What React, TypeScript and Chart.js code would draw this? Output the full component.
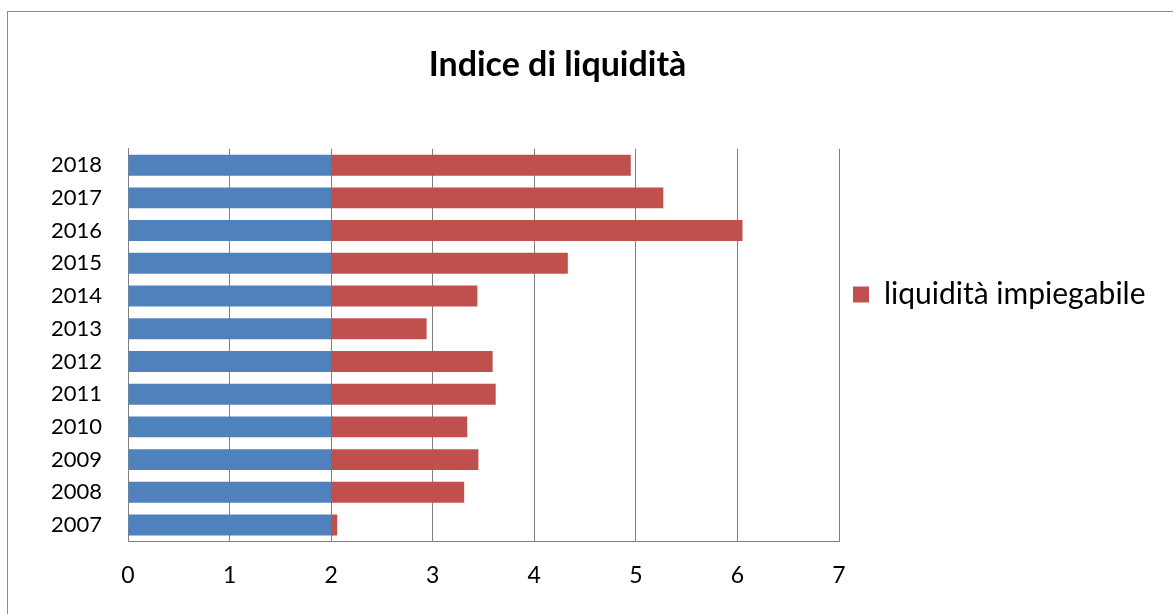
import React, { useEffect, useRef } from "react";
import { Chart, registerables } from "chart.js";

Chart.register(...registerables);

const years = ["2007", "2008", "2009", "2010", "2011", "2012", "2013", "2014", "2015", "2016", "2017", "2018"];
const baseValues = [2, 2, 2, 2, 2, 2, 2, 2, 2, 2, 2, 2];
const impiegabileValues = [0.06, 1.31, 1.45, 1.34, 1.62, 1.59, 0.94, 1.44, 2.33, 4.05, 3.27, 2.95];
const xMin = 0;
const xMax = 7;
const xStep = 1;

const FONT = "Lato";
const CANVAS_OFFSET = 58;
const CANVAS_W = 1173 + CANVAS_OFFSET;
const CANVAS_H = 614;
const Y_AXIS_W = 128 + CANVAS_OFFSET;
const LEGEND_W = CANVAS_W - (839 + CANVAS_OFFSET);

const legendWidthPlugin = {
  id: "legendWidth",
  afterInit(chart: any) {
    const lg = chart.legend;
    if (!lg) return;
    const origFit = lg.fit.bind(lg);
    lg.fit = function () {
      origFit();
      lg.width = LEGEND_W;
    };
  },
};

export default function App() {
  const canvasRef = useRef<HTMLCanvasElement | null>(null);

  useEffect(() => {
    if (!canvasRef.current) return;
    const chart = new Chart(canvasRef.current, {
      type: "bar",
      data: {
        labels: years,
        datasets: [
          {
            label: "liquidità immediata",
            data: baseValues,
            backgroundColor: "#4F81BD",
            borderWidth: 0,
            barPercentage: 0.64,
            categoryPercentage: 1,
          },
          {
            label: "liquidità impiegabile",
            data: impiegabileValues,
            backgroundColor: "#C0504D",
            borderWidth: 0,
            barPercentage: 0.64,
            categoryPercentage: 1,
          },
        ],
      },
      options: {
        indexAxis: "y",
        responsive: false,
        animation: false,
        devicePixelRatio: 1,
        layout: { padding: { left: 0, right: 0, top: 0, bottom: 25 } },
        plugins: {
          title: {
            display: true,
            text: "Indice di liquidità",
            color: "#000",
            font: { family: FONT, size: 34, weight: "bold", lineHeight: 1.2 },
            padding: { top: 45, bottom: 63 },
          },
          legend: {
            position: "right",
            align: "center",
            labels: {
              filter: (item: any) => item.datasetIndex === 1,
              boxWidth: 16,
              boxHeight: 16,
              padding: 14,
              color: "#000",
              font: { family: FONT, size: 30 },
            },
          },
          tooltip: { enabled: false },
        },
        scales: {
          x: {
            stacked: true,
            min: xMin,
            max: xMax,
            ticks: {
              stepSize: xStep,
              color: "#000",
              padding: 0,
              font: { family: FONT, size: 23 },
            },
            grid: {
              color: "#808080",
              lineWidth: 1,
              drawTicks: true,
              tickLength: 20,
              tickColor: "rgba(0,0,0,0)",
            },
            border: { color: "#808080", width: 1 },
          },
          y: {
            stacked: true,
            reverse: true,
            grid: { display: false, drawTicks: false },
            border: { display: true, color: "#808080", width: 1 },
            ticks: {
              color: "#000",
              padding: 26,
              font: { family: FONT, size: 22 },
            },
            afterFit: (scale: any) => {
              scale.width = Y_AXIS_W;
            },
          },
        },
      } as any,
      plugins: [legendWidthPlugin],
    });
    return () => chart.destroy();
  }, []);

  return (
    <div
      style={{
        position: "fixed",
        left: 0,
        top: 0,
        width: 1173,
        height: 614,
        overflow: "hidden",
        background: "#fff",
      }}
    >
      <div
        style={{
          position: "absolute",
          left: 7,
          top: 11,
          width: 1300,
          height: 800,
          border: "1px solid #8a8a8a",
          boxSizing: "border-box",
        }}
      />
      <canvas
        ref={canvasRef}
        width={CANVAS_W}
        height={CANVAS_H}
        style={{ position: "absolute", left: -CANVAS_OFFSET, top: 0, width: CANVAS_W, height: CANVAS_H }}
      />
    </div>
  );
}
